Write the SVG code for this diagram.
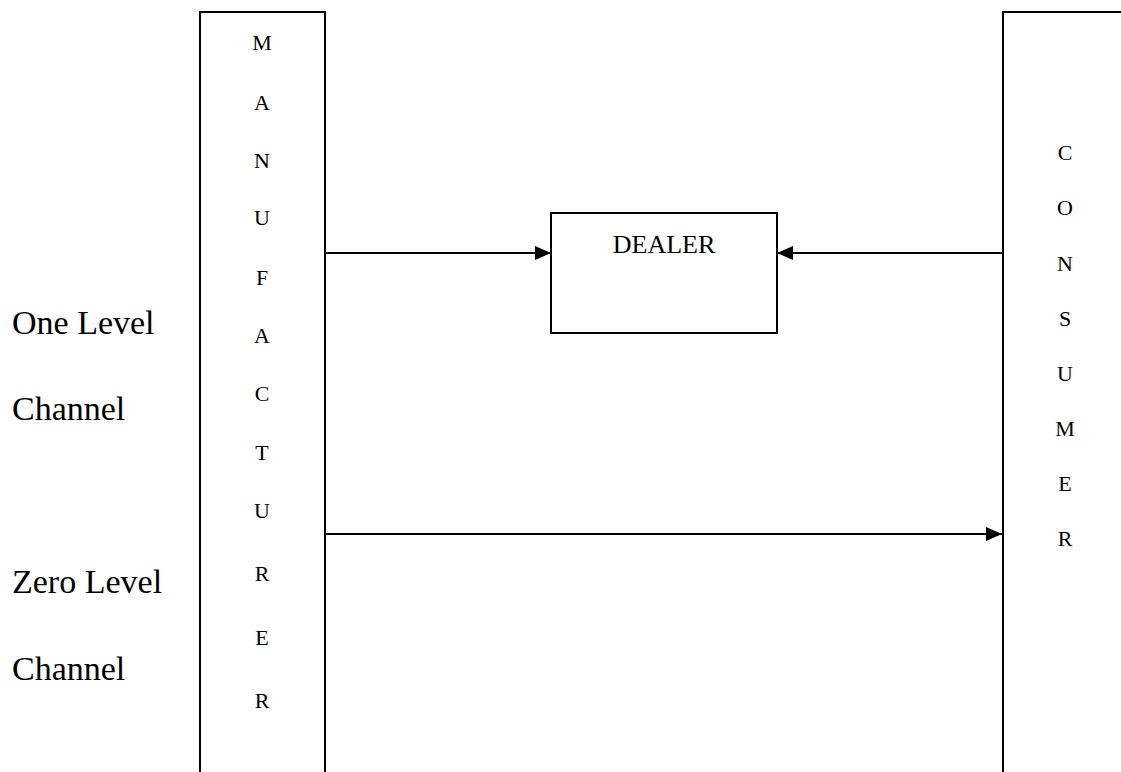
<svg xmlns="http://www.w3.org/2000/svg" width="1121" height="772" viewBox="0 0 1121 772">
  <style>
    .frame { fill: none; stroke: #000; stroke-width: 2; }
    .link { fill: none; stroke: #000; stroke-width: 2; }
    .letter { font-family: "Liberation Serif", "DejaVu Serif", serif; font-size: 22px; fill: #000; text-anchor: middle; }
    .side { font-family: "Liberation Serif", "Times New Roman", serif; font-size: 34px; fill: #000; }
    .box-label { font-family: "Liberation Serif", "DejaVu Serif", serif; font-size: 26px; fill: #000; text-anchor: middle; }
  </style>
  <defs>
    <marker id="arrow" markerWidth="16" markerHeight="14" refX="16" refY="7" orient="auto" markerUnits="userSpaceOnUse">
      <path d="M0,0 L16,7 L0,14 Z" fill="#000"/>
    </marker>
  </defs>
  <rect width="1121" height="772" fill="#fff"/>

  <!-- channel labels -->
  <g id="labels">
    <text class="side" x="12" y="334">One Level</text>
    <text class="side" x="12" y="420">Channel</text>
    <text class="side" x="12" y="593">Zero Level</text>
    <text class="side" x="12" y="680">Channel</text>
  </g>

  <!-- manufacturer column -->
  <g id="manufacturer">
    <path class="frame" d="M200,772 V12 H325 V772"/>
    <text class="letter" x="262" y="50">M</text>
    <text class="letter" x="262" y="110">A</text>
    <text class="letter" x="262" y="168">N</text>
    <text class="letter" x="262" y="225">U</text>
    <text class="letter" x="262" y="285">F</text>
    <text class="letter" x="262" y="343">A</text>
    <text class="letter" x="262" y="401">C</text>
    <text class="letter" x="262" y="460">T</text>
    <text class="letter" x="262" y="518">U</text>
    <text class="letter" x="262" y="581">R</text>
    <text class="letter" x="262" y="645">E</text>
    <text class="letter" x="262" y="708">R</text>
  </g>

  <!-- dealer box -->
  <g id="dealer">
    <rect class="frame" x="551" y="213" width="226" height="120"/>
    <text class="box-label" x="664" y="253">DEALER</text>
  </g>

  <!-- consumer column -->
  <g id="consumer">
    <path class="frame" d="M1003,772 V12 H1121"/>
    <text class="letter" x="1065" y="160">C</text>
    <text class="letter" x="1065" y="215">O</text>
    <text class="letter" x="1065" y="271">N</text>
    <text class="letter" x="1065" y="326">S</text>
    <text class="letter" x="1065" y="381">U</text>
    <text class="letter" x="1065" y="436">M</text>
    <text class="letter" x="1065" y="491">E</text>
    <text class="letter" x="1065" y="546">R</text>
  </g>

  <!-- connectors -->
  <g id="connectors">
    <line class="link" x1="326" y1="253" x2="551" y2="253" marker-end="url(#arrow)"/>
    <line class="link" x1="1002" y1="253" x2="777" y2="253" marker-end="url(#arrow)"/>
    <line class="link" x1="326" y1="534" x2="1002" y2="534" marker-end="url(#arrow)"/>
  </g>
</svg>
